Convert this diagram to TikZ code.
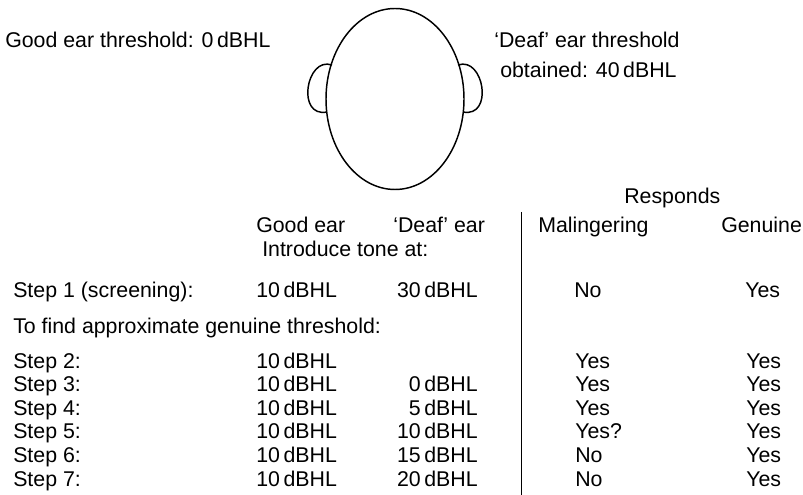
\documentclass[tikz,border=0pt]{standalone}
\usepackage{fontspec}
\setmainfont{Liberation Sans}
\usepackage{tikz}
\usetikzlibrary{positioning}

\begin{document}
\begin{tikzpicture}[
  x=0.75pt, y=-0.75pt,
  every node/.style={inner sep=0pt, anchor=base west, font=\fontsize{16}{19}\selectfont},
  rval/.style={anchor=base east},
  outline/.style={draw, line width=1.1pt},
  rule/.style={draw, line width=0.6pt}
]
\useasboundingbox (0,0) rectangle (803,495);

% head seen from behind, with the two ears
\draw[outline] (395,99) ellipse [x radius=69, y radius=90.5];
\coordinate (learT) at (332,65);
\coordinate (learB) at (327,112);
\coordinate (rearT) at (458,65);
\coordinate (rearB) at (463,112);
\draw[outline] (learT) .. controls +(-26,-9) and +(-31,6) .. (learB);
\draw[outline] (rearT) .. controls +(26,-9) and +(31,6) .. (rearB);

% thresholds
\node (goodthr) at (5,48) {Good ear threshold: 0\,dBHL};
\node (deafthr) at (494,48) {‘Deaf’ ear threshold};
\node (deafobt) at (500,78) {obtained: 40\,dBHL};

% table heads
\node (responds) at (624,204) {Responds};
\node (hgood) at (256,233) {Good ear};
\node (hdeaf) at (393,233) {‘Deaf’ ear};
\node (hmal) at (538,233) {Malingering};
\node (hgen) at (721,233) {Genuine};
\node (intro) at (262,257) {Introduce tone at:};

\coordinate (ruletop) at (521,212);
\coordinate (rulebot) at (521,495);
\draw[rule] (ruletop) -- (rulebot);

% screening step
\node (step1) at (13,297) {Step 1 (screening):};
\node (good1) at (256,297) {10\,dBHL};
\node[rval] (deaf1) at (478,297) {30\,dBHL};
\node (mal1) at (574,297) {No};
\node (gen1) at (745,297) {Yes};

\node (tofind) at (13,333) {To find approximate genuine threshold:};

% steps 2 to 7
\foreach \n/\db/\ans [count=\k from 0] in {2//Yes, 3/0/Yes, 4/5/Yes, 5/10/Yes?, 6/15/No, 7/20/No} {
  \pgfmathsetmacro\yy{368.3+23.55*\k}
  \node (step\n) at (13,\yy) {Step \n:};
  \node (good\n) at (256,\yy) {10\,dBHL};
  \ifx\db\empty\else
    \node[rval] (deaf\n) at (478,\yy) {\db\,dBHL};
  \fi
  \node (mal\n) at (575,\yy) {\ans};
  \node (gen\n) at (746,\yy) {Yes};
}
\end{tikzpicture}
\end{document}
